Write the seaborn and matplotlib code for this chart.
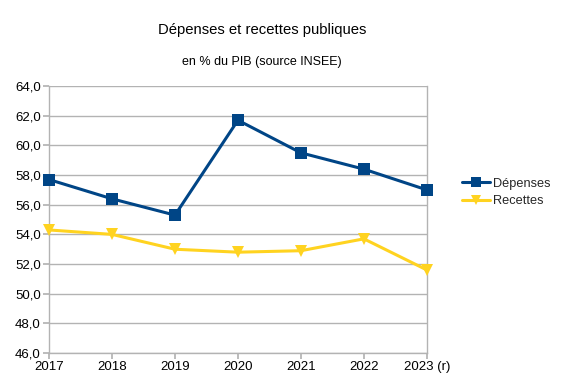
import matplotlib
matplotlib.use("Agg")
import matplotlib.pyplot as plt
import seaborn as sns
import pandas as pd
from matplotlib.ticker import FuncFormatter
from matplotlib.lines import Line2D

years = ["2017", "2018", "2019", "2020", "2021", "2022", "2023 (r)"]
depenses = [57.7, 56.4, 55.3, 61.7, 59.5, 58.4, 57.0]
recettes = [54.3, 54.0, 53.0, 52.8, 52.9, 53.7, 51.6]

sns.set_theme(style="white")
plt.rcParams["font.family"] = ["Liberation Sans", "DejaVu Sans"]

df = pd.DataFrame({
    "idx": list(range(len(years))) * 2,
    "val": depenses + recettes,
    "serie": ["Dépenses"] * len(years) + ["Recettes"] * len(years),
})

fig = plt.figure(figsize=(5.64, 3.84), dpi=100)
ax = fig.add_axes([0.0869, 0.0807, 0.670, 0.695])

palette = {"Dépenses": "#004586", "Recettes": "#ffd320"}
markers = {"Dépenses": "s", "Recettes": "v"}
sns.lineplot(data=df, x="idx", y="val", hue="serie", style="serie",
             palette=palette, markers=markers, dashes=False,
             linewidth=2.2, markersize=8, markeredgewidth=0, ax=ax, legend=False)
for ln in ax.lines:
    ln.set_clip_on(False)
    ln.set_zorder(5)

ax.set_xlim(0, len(years) - 1)
ax.set_ylim(46, 64)
ax.set_yticks([46 + 2 * i for i in range(10)])
ax.yaxis.set_major_formatter(FuncFormatter(lambda v, p: f"{v:.1f}".replace(".", ",")))
ax.set_xticks(range(len(years)))
ax.set_xticklabels(years)
ax.set_xlabel("")
ax.set_ylabel("")
ax.grid(axis="y", color="#b3b3b3", linewidth=1)
ax.set_axisbelow(True)
for s in ["left", "bottom", "right"]:
    ax.spines[s].set_color("#b3b3b3")
    ax.spines[s].set_linewidth(1)
ax.spines["top"].set_visible(False)
ax.tick_params(axis="both", which="both", length=4, color="#b3b3b3",
               labelsize=9.5, labelcolor="black", pad=2, direction="out",
               bottom=True, left=True)

fig.text(262 / 564, 1 - 30 / 384, "Dépenses et recettes publiques", ha="center", va="center",
         fontsize=10.7, color="black")
fig.text(262 / 564, 1 - 62 / 384, "en % du PIB (source INSEE)", ha="center", va="center",
         fontsize=9, color="black")

handles = [Line2D([0], [0], color="#004586", lw=2.2, marker="s", markersize=7, markeredgewidth=0),
           Line2D([0], [0], color="#ffd320", lw=2.2, marker="v", markersize=7, markeredgewidth=0)]
fig.legend(handles, ["Dépenses", "Recettes"], loc="center left",
           bbox_to_anchor=(462 / 564, 1 - 192.5 / 384), frameon=False,
           fontsize=9.2, handlelength=2.2, handletextpad=0.25, labelspacing=0.45, borderpad=0,
           borderaxespad=0)

fig.savefig("out.png", dpi=100, facecolor="white")
